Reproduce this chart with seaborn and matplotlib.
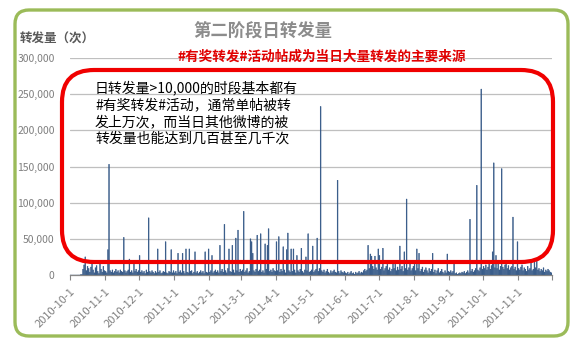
import numpy as np
import pandas as pd
import matplotlib.pyplot as plt
import seaborn as sns
from matplotlib.patches import FancyBboxPatch
from matplotlib.transforms import IdentityTransform
from matplotlib.ticker import FuncFormatter

# daily retweet counts, in thousands, one list per month
oct10 = [0, 0, 0, 0, 0, 0, 0, 0, 0, 0.3, 0.6, 8, 14, 25, 6, 12, 9, 4, 11, 15, 7, 3, 10, 13, 5, 2, 20, 8, 4, 12, 6]
nov10 = [5, 3, 35, 153, 6, 4, 7, 3, 5, 8, 4, 6, 3, 7, 5, 4, 52, 6, 3, 5, 7, 22, 4, 6, 3, 20, 5, 8, 4, 6]
dec10 = [27, 4, 6, 3, 5, 2, 7, 4, 79, 5, 3, 6, 4, 2, 5, 3, 36, 4, 6, 2, 3, 5, 4, 46, 3, 2, 5, 4, 35, 3, 6]
jan11 = [3, 5, 2, 30, 4, 6, 3, 30, 5, 2, 36, 4, 3, 36, 5, 6, 2, 4, 32, 3, 5, 2, 4, 6, 3, 5, 2, 32, 4, 3, 36]
feb11 = [4, 6, 27, 3, 5, 7, 4, 6, 3, 41, 5, 8, 4, 70, 6, 3, 9, 36, 5, 4, 41, 7, 3, 51, 6, 62, 4, 8]
mar11 = [5, 7, 88, 4, 6, 9, 3, 5, 50, 46, 30, 6, 4, 8, 55, 5, 7, 57, 4, 6, 3, 43, 8, 41, 64, 5, 7, 4, 9, 6, 5]
apr11 = [46, 6, 53, 4, 8, 5, 39, 7, 3, 35, 58, 6, 4, 36, 5, 36, 7, 3, 27, 6, 4, 8, 37, 5, 3, 7, 25, 6, 57, 4]
may11 = [5, 7, 40, 4, 6, 8, 51, 5, 9, 233, 6, 4, 7, 3, 5, 8, 4, 2, 6, 3, 5, 7, 4, 3, 131, 5, 2, 6, 4, 3, 5]
jun11 = [3, 2, 4, 1, 3, 5, 2, 3, 1, 4, 2, 3, 5, 2, 4, 3, 6, 8, 5, 7, 41, 9, 29, 26, 12, 8, 26, 10, 7, 36]
jul11 = [27, 8, 11, 37, 6, 9, 12, 20, 7, 10, 5, 8, 20, 9, 20, 6, 11, 7, 40, 8, 12, 5, 32, 9, 105, 7, 10, 18, 6, 9, 12]
aug11 = [18, 6, 36, 9, 30, 5, 8, 11, 4, 7, 10, 6, 3, 9, 5, 8, 30, 4, 7, 2, 6, 9, 3, 5, 8, 4, 2, 6, 3, 29, 5]
sep11 = [4, 6, 3, 5, 18, 2, 3, 1, 2, 3, 2, 4, 3, 5, 2, 4, 6, 3, 77, 5, 8, 4, 6, 9, 124, 7, 5, 10, 257, 8]
oct11 = [12, 9, 14, 7, 11, 16, 8, 13, 32, 155, 10, 27, 9, 15, 7, 12, 147, 11, 8, 14, 20, 9, 13, 7, 10, 12, 80, 8, 11, 6, 46]
nov11 = [9, 7, 11, 14, 6, 10, 8, 5, 12, 7, 9, 20, 6, 8, 20, 10, 21, 7, 9, 5, 8, 6, 10, 4, 7, 5, 8, 6, 4, 3]

months = [oct10, nov10, dec10, jan11, feb11, mar11, apr11, may11, jun11, jul11, aug11, sep11, oct11, nov11]
counts = np.concatenate([np.array(m, dtype=float) for m in months]) * 1000
dates = pd.date_range('2010-10-01', '2011-11-30', freq='D')

df = pd.DataFrame({'day': np.arange(len(dates)), 'count': counts})

title = '第二阶段日转发量'
ylabel = '转发量（次）'
headline = '#有奖转发#活动帖成为当日大量转发的主要来源'
note_lines = ['日转发量>10,000的时段基本都有',
              '#有奖转发#活动，通常单帖被转',
              '发上万次，而当日其他微博的被',
              '转发量也能达到几百甚至几千次']

sns.set_theme(style='white')
plt.rcParams['font.family'] = ['Noto Sans CJK SC', 'DejaVu Sans']

W, H = 581, 353
fig = plt.figure(figsize=(W / 100, H / 100), dpi=100)
fig.patch.set_facecolor('white')

bar_color = '#2F5484'
ax = fig.add_axes([70 / W, 78 / H, 482 / W, 217 / H])
sns.barplot(data=df, x='day', y='count', native_scale=True, color=bar_color,
            saturation=1, width=0.7, linewidth=0.35, edgecolor=bar_color,
            errorbar=None, ax=ax)
for p in ax.patches:
    p.set_snap(False)

ax.set_ylim(0, 300000)
ax.set_xlim(-0.5, len(dates) - 0.5)
ax.set_yticks(np.arange(0, 300001, 50000))
ax.yaxis.set_major_formatter(FuncFormatter(lambda v, p: f'{int(v):,}'))
ax.grid(axis='y', color='#BFBFBF', linewidth=0.9)
ax.set_axisbelow(True)
ax.set_xlabel('')
ax.set_ylabel('')

# month ticks
starts = [i for i, d in enumerate(dates) if d.day == 1]
tick_pos = [i - 0.5 for i in starts] + [len(dates) - 0.5]
tick_lab = [f'{dates[i].year}-{dates[i].month}-1' for i in starts] + ['']
ax.set_xticks(tick_pos)
ax.set_xticklabels(tick_lab, rotation=45, ha='right', rotation_mode='anchor')
ax.tick_params(axis='x', direction='out', length=3.5, width=0.8, color='#868686',
               labelsize=8, labelcolor='#7F7F7F', pad=5, bottom=True)
ax.tick_params(axis='y', length=0, labelsize=7.5, labelcolor='#7F7F7F', pad=11)
for s in ['left', 'top', 'right']:
    ax.spines[s].set_visible(False)
ax.spines['bottom'].set_color('#868686')
ax.spines['bottom'].set_linewidth(0.9)

# green rounded frame
frame = FancyBboxPatch((15, 17), 553, 326, boxstyle='round,pad=0,rounding_size=14',
                       transform=IdentityTransform(), facecolor='none',
                       edgecolor='#9BBB59', linewidth=2.4, zorder=6)
fig.patches.append(frame)

# red highlight box
box = FancyBboxPatch((62, 91), 491, 192, boxstyle='round,pad=0,rounding_size=32',
                     transform=IdentityTransform(), facecolor='none',
                     edgecolor='#F00000', linewidth=3, zorder=7)
fig.patches.append(box)

fig.text(263 / W, 1 - 32 / H, title, ha='center', va='center',
         fontsize=12.5, color='#8C8C8C', fontweight='bold')
fig.text(20 / W, 1 - 39 / H, ylabel, ha='left', va='center',
         fontsize=9, color='#595959', fontweight='bold')
fig.text(178 / W, 1 - 57 / H, headline, ha='left', va='center',
         fontsize=9.8, color='#E00000', fontweight='bold')
for k, line in enumerate(note_lines):
    fig.text(95 / W, 1 - (88 + 17 * k) / H, line, ha='left', va='center',
             fontsize=10, color='black')

fig.savefig('out.png', dpi=100)
